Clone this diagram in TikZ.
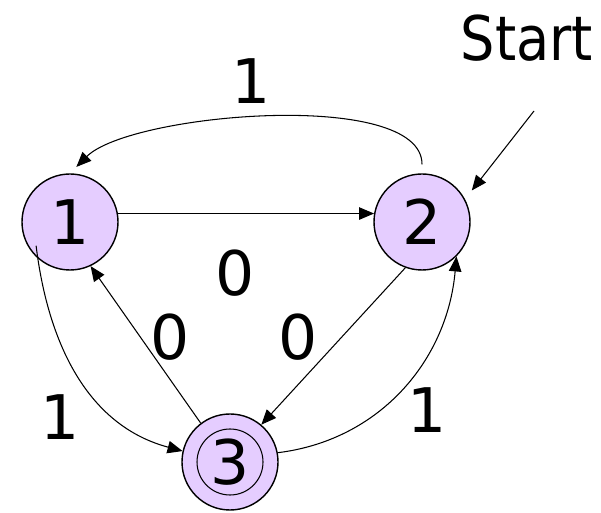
\documentclass[tikz,border=0pt]{standalone}
\usepackage{fontspec}
\setmainfont{DejaVu Sans}
\newfontfamily\startfont{DejaVu Sans}[FakeStretch=0.88]
\usetikzlibrary{arrows.meta, calc}
\definecolor{cState}{RGB}{229,205,255}
\tikzset{
	state/.style={circle, draw=black, line width=0.8pt, fill=cState, minimum size=1.92cm, inner sep=0pt, font=\fontsize{35}{40}\selectfont},
	trans/.style={-{Triangle[length=3mm,width=2.5mm]}, line width=0.6pt},
	lbl/.style  ={font=\fontsize{35}{40}\selectfont, inner sep=0pt},
}

\begin{document}
\begin{tikzpicture}
	\useasboundingbox (0,0) rectangle (12.02,10.26);
	% states
	\node[state] (n1) at (1.40,5.82) {1};
	\node[state] (n2) at (8.44,5.82) {2};
	\node[state] (n3) at (4.60,1.02) {3};
	\draw[line width=0.6pt] (n3.center) circle (0.66);
	% start marker
	\node[lbl] (start) at (10.54,9.50) {\startfont Start};
	\coordinate (s0) at (10.68,8.04);
	\draw[trans, shorten >=0.22cm] (s0) -- (n2.28);
	% transitions
	\draw[trans] (n1.10) -- (n2.170);
	\draw[trans, shorten <=0.18cm, shorten >=0.18cm] (n2.north) to[out=90, in=45, looseness=0.62] (n1.north);
	\draw[trans] (n2.250) -- (n3.50);
	\draw[trans] (n3.127) -- (n1.295);
	\draw[trans] ($(n1.center)!0.85!(n1.215)$) to[out=-83, in=165] (n3.167);
	\draw[trans] (n3.11) to[out=7, in=-95] (n2.-45);
	% labels
	\node[lbl] (l21) at (5.02,8.64) {1};
	\node[lbl] (l12) at (4.70,4.80) {0};
	\node[lbl] (l23) at (5.96,3.52) {0};
	\node[lbl] (l31) at (3.40,3.52) {0};
	\node[lbl] (l13) at (1.20,1.92) {1};
	\node[lbl] (l32) at (8.54,2.06) {1};
\end{tikzpicture}
\end{document}
